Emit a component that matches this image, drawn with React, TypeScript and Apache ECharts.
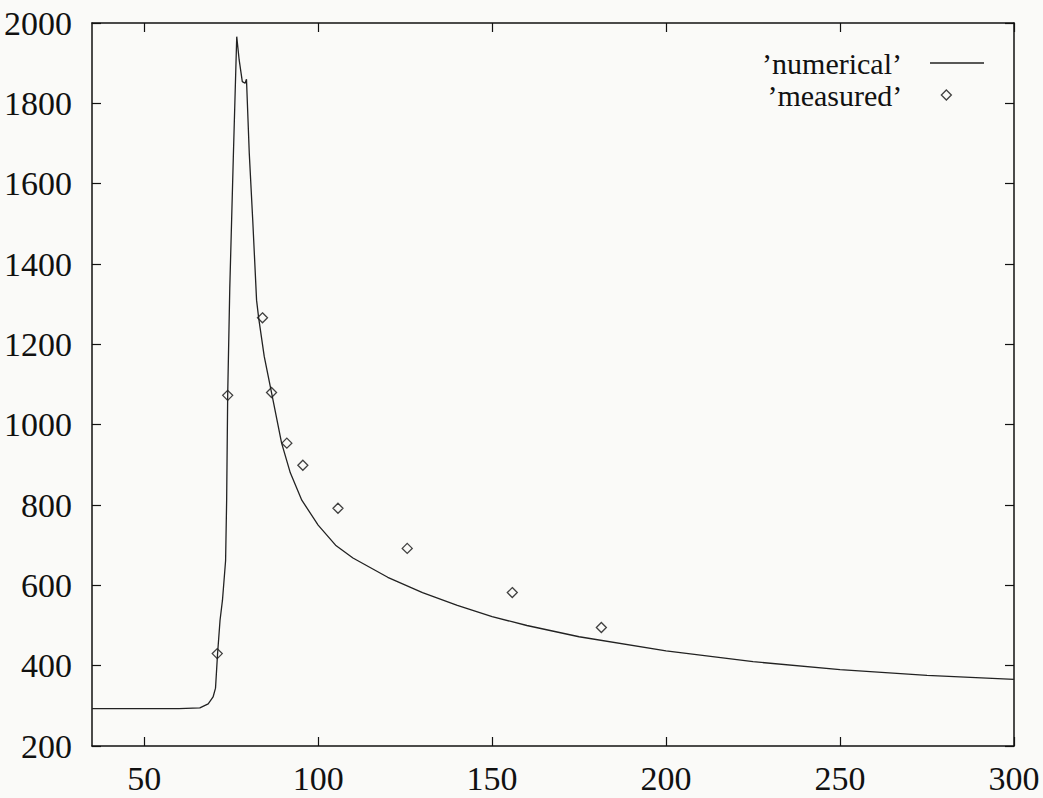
import React, { useEffect, useRef } from "react";
import * as echarts from "echarts";

// Numerical solution (x, value)
const numericalX = [
  35, 60, 66, 68.4, 69.8, 70.5, 71.1, 71.8, 72.5, 73.4, 73.7, 74, 74.6, 75.6,
  76.6, 77.3, 78.2, 79, 79.4, 80.2, 81.2, 82.3, 82.9, 84.5, 86.6, 89.5, 92,
  95.3, 100, 105, 110, 120, 130, 140, 150, 160, 175, 200, 225, 250, 275, 300,
];
const numericalY = [
  293, 293, 295, 305, 322, 344, 431, 513, 563, 662, 812, 1073, 1340, 1660,
  1966, 1908, 1854, 1850, 1860, 1676, 1509, 1310, 1266, 1170, 1080, 954, 880,
  812, 750, 700, 668, 620, 582, 550, 522, 500, 472, 437, 410, 390, 376, 366,
];

// Measured points
const measuredX = [71, 74, 84, 86.6, 91, 95.6, 105.7, 125.6, 155.8, 181.4];
const measuredY = [430, 1073, 1266, 1080, 954, 899, 792, 692, 582, 495];

const xTicks = [50, 100, 150, 200, 250, 300];
const seriesNames = ["\u2019numerical\u2019", "\u2019measured\u2019"];

const FONT = "'Liberation Serif', 'Times New Roman', serif";
const INK = "#111";
const LINE = "#222";
const HOLLOW = "rgba(0,0,0,0)";

export default function App() {
  const ref = useRef<HTMLDivElement>(null);

  useEffect(() => {
    if (!ref.current) return;
    const chart = echarts.init(ref.current, undefined, { renderer: "svg" });

    const numerical = numericalX.map((x, i) => [x, numericalY[i]]);
    const measured = measuredX.map((x, i) => [x, measuredY[i]]);

    const xCommon = {
      type: "value" as const,
      min: 35,
      max: 300,
      splitLine: { show: false },
      axisLine: { show: true, onZero: false, lineStyle: { color: INK, width: 1.5 } },
      axisTick: {
        show: true,
        inside: true,
        length: 9,
        customValues: xTicks,
        lineStyle: { color: INK, width: 1.2 },
      },
    };
    const yCommon = {
      type: "value" as const,
      min: 200,
      max: 2000,
      interval: 200,
      splitLine: { show: false },
      axisLine: { show: true, onZero: false, lineStyle: { color: INK, width: 1.5 } },
      axisTick: { show: true, inside: true, length: 9, lineStyle: { color: INK, width: 1.2 } },
    };

    chart.setOption({
      animation: false,
      backgroundColor: "#fafaf8",
      grid: { left: 92, right: 29, top: 23, bottom: 52, containLabel: false },
      legend: [
        {
          data: [{ name: seriesNames[0], icon: "rect" }],
          right: 59,
          top: 48,
          padding: 0,
          align: "right",
          itemWidth: 54,
          itemHeight: 1.3,
          itemStyle: { color: LINE, borderWidth: 0 },
          textStyle: {
            fontFamily: FONT,
            fontSize: 30,
            color: INK,
            padding: [0, 23, 0, 0],
          },
          selectedMode: false,
        },
        {
          data: [seriesNames[1]],
          right: 91,
          top: 80,
          padding: 0,
          align: "right",
          itemWidth: 10,
          itemHeight: 10,
          itemStyle: { color: HOLLOW, borderColor: INK, borderWidth: 1.3 },
          textStyle: {
            fontFamily: FONT,
            fontSize: 30,
            color: INK,
            padding: [0, 34, 0, 0],
          },
          selectedMode: false,
        },
      ],
      xAxis: [
        {
          ...xCommon,
          position: "bottom",
          axisLabel: {
            show: true,
            customValues: xTicks,
            margin: 15,
            fontFamily: FONT,
            fontSize: 34,
            color: INK,
          },
        },
        {
          ...xCommon,
          position: "top",
          axisLabel: { show: false },
        },
      ],
      yAxis: [
        {
          ...yCommon,
          position: "left",
          axisLabel: {
            show: true,
            margin: 20,
            fontFamily: FONT,
            fontSize: 34,
            color: INK,
            formatter: (v: number) => String(v),
          },
        },
        {
          ...yCommon,
          position: "right",
          axisLabel: { show: false },
        },
      ],
      series: [
        {
          name: seriesNames[0],
          type: "line",
          data: numerical,
          symbol: "none",
          lineStyle: { color: LINE, width: 1.3 },
          itemStyle: { color: LINE },
        },
        {
          name: seriesNames[1],
          type: "scatter",
          data: measured,
          symbol: "diamond",
          symbolSize: 10,
          itemStyle: { color: HOLLOW, borderColor: INK, borderWidth: 1.3 },
        },
      ],
    });

    return () => chart.dispose();
  }, []);

  return (
    <div
      ref={ref}
      style={{ position: "fixed", left: 0, top: 0, width: 1043, height: 798 }}
    />
  );
}
